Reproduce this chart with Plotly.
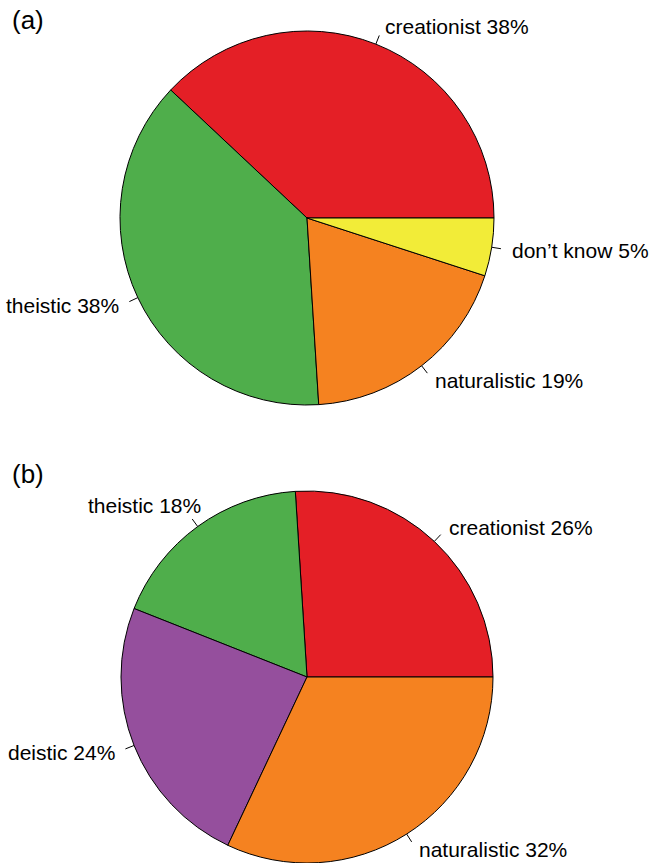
import math
import plotly.graph_objects as go

W, H = 651, 863

# ---- data ----
panel_a_labels = ["creationist", "theistic", "naturalistic", "don\u2019t know"]
panel_a_values = [38, 38, 19, 5]
panel_a_colors = ["#E41F26", "#4FAE4B", "#F58220", "#F2EC38"]

panel_b_labels = ["creationist", "theistic", "deistic", "naturalistic"]
panel_b_values = [26, 18, 24, 32]
panel_b_colors = ["#E41F26", "#4FAE4B", "#954F9D", "#F58220"]

panel_tags = ["(a)", "(b)"]

# ---- layout (pixel geometry) ----
panels = [
    dict(tag=panel_tags[0], labels=panel_a_labels, values=panel_a_values,
         colors=panel_a_colors, cx=307, cy=218, r=187, tag_y=20,
         nudge={}),
    dict(tag=panel_tags[1], labels=panel_b_labels, values=panel_b_values,
         colors=panel_b_colors, cx=307, cy=677, r=186, tag_y=474,
         nudge={1: (16, -6)}),
]

FONT = "Liberation Sans, Arial, Helvetica, sans-serif"
FS = 21

fig = go.Figure()
shapes = []
annotations = []


def px(x):
    return x / W


def py(y):
    return 1 - y / H


for p in panels:
    cx, cy, r = p["cx"], p["cy"], p["r"]
    y0 = max(0.0, py(cy + r))
    y1 = min(1.0, py(cy - r))
    total = sum(p["values"])
    # plotly (counterclockwise): first slice occupies the clockwise side of
    # `rotation`; shift so the first slice starts at 3 o'clock going CCW.
    rot = 90 - 360 * p["values"][0] / total
    fig.add_trace(go.Pie(
        labels=p["labels"], values=p["values"],
        marker=dict(colors=p["colors"], line=dict(color="black", width=1)),
        sort=False, direction="counterclockwise", rotation=rot,
        textinfo="none", hoverinfo="label+percent", showlegend=False,
        domain=dict(x=[px(cx - r), px(cx + r)], y=[y0, y1]),
    ))
    cum = 0
    for i, (lab, v) in enumerate(zip(p["labels"], p["values"])):
        th = 2 * math.pi * (cum + v / 2) / total
        cum += v
        c, s = math.cos(th), math.sin(th)
        shapes.append(dict(
            type="line", xref="paper", yref="paper",
            x0=px(cx + r * c), y0=py(cy - r * s),
            x1=px(cx + 1.05 * r * c), y1=py(cy - 1.05 * r * s),
            line=dict(color="black", width=1),
        ))
        dx, dy = p["nudge"].get(i, (0, 0))
        annotations.append(dict(
            xref="paper", yref="paper",
            x=px(cx + 1.1 * r * c + dx), y=py(cy - 1.1 * r * s + dy),
            text=f"{lab} {v}%", showarrow=False,
            xanchor="left" if c >= 0 else "right", yanchor="middle",
            font=dict(family=FONT, size=FS, color="black"),
        ))
    annotations.append(dict(
        xref="paper", yref="paper", x=px(10), y=py(p["tag_y"]),
        text=p["tag"], showarrow=False, xanchor="left", yanchor="middle",
        font=dict(family=FONT, size=26, color="black"),
    ))

fig.update_layout(
    width=W, height=H, margin=dict(l=0, r=0, t=0, b=0),
    paper_bgcolor="white", plot_bgcolor="white",
    shapes=shapes, annotations=annotations,
)

fig.write_html("out.html")
